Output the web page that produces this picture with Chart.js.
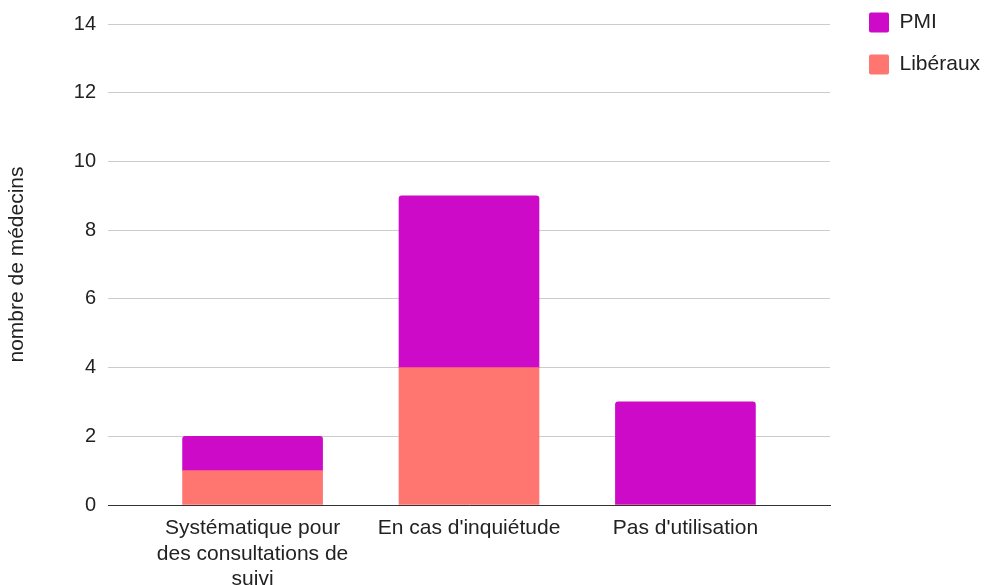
<!DOCTYPE html>
<html>
<head>
<meta charset="utf-8">
<script src="https://cdn.jsdelivr.net/npm/chart.js@4"></script>
<style>
  html, body { margin: 0; padding: 0; background: #fff; }
  #wrap { width: 987px; height: 585px; }
</style>
</head>
<body>
<div id="wrap"><canvas id="MedChart"></canvas></div>
<script>
const categories = [
  ['Systématique pour', 'des consultations de', 'suivi'],
  "En cas d'inquiétude",
  "Pas d'utilisation"
];
const pmi = [1, 5, 3];
const liberaux = [1, 4, 0];
const yTicks = [0, 2, 4, 6, 8, 10, 12, 14];

Chart.defaults.font.family = '"Liberation Sans", Arial, sans-serif';
Chart.defaults.font.size = 20;
Chart.defaults.color = '#222';

// keep the legend column at a fixed width and nudge it into place
const legendFit = {
  id: 'legendFit',
  beforeLayout(chart) {
    const lg = chart.legend;
    if (lg && !lg._fixed) {
      const fit = lg.fit;
      lg.fit = function () { fit.call(this); this.width = 157; };
      lg._fixed = true;
    }
  },
  afterLayout(chart) {
    chart.legend.left += 18;
    chart.legend.top -= 17;
  }
};

const ctx = document.getElementById('MedChart');

new Chart(ctx, {
  type: 'bar',
  data: {
    datasets: [{
      label: 'Libéraux',
      data: liberaux.map((v, i) => ({ x: i, y: v })),
      backgroundColor: '#ff7570',
      barThickness: 140
    }, {
      label: 'PMI',
      data: pmi.map((v, i) => ({ x: i, y: v })),
      backgroundColor: '#cc0ac8',
      borderRadius: { topLeft: 3, topRight: 3, bottomLeft: 0, bottomRight: 0 },
      borderSkipped: false,
      barThickness: 140
    }]
  },
  plugins: [legendFit],
  options: {
    responsive: true,
    maintainAspectRatio: false,
    animation: false,
    layout: { padding: { top: 8, right: 0, left: 0, bottom: 0 } },
    plugins: {
      tooltip: { enabled: false },
      legend: {
        position: 'right',
        align: 'start',
        reverse: true,
        labels: {
          boxWidth: 20,
          boxHeight: 20,
          padding: 21,
          color: '#222',
          font: { size: 21 },
          useBorderRadius: true,
          borderRadius: 2
        }
      }
    },
    scales: {
      x: {
        type: 'linear',
        stacked: true,
        offset: false,
        min: -0.668,
        max: 2.668,
        afterBuildTicks: (scale) => { scale.ticks = categories.map((c, i) => ({ value: i })); },
        afterFit: (scale) => { scale.height = 80; },
        ticks: {
          autoSkip: false,
          maxRotation: 0,
          padding: 3,
          font: { size: 21 },
          callback: (v) => categories[v]
        },
        grid: { display: false },
        border: { color: '#333', width: 1 }
      },
      y: {
        stacked: true,
        min: 0,
        max: 14,
        afterBuildTicks: (scale) => { scale.ticks = yTicks.map(v => ({ value: v })); },
        afterFit: (scale) => { scale.width = 108; },
        ticks: { padding: 12, font: { size: 20 } },
        grid: { color: '#ccc', drawTicks: false },
        border: { display: false },
        title: {
          display: true,
          text: 'nombre de médecins',
          color: '#222',
          font: { size: 21 },
          padding: { top: 5, bottom: 0 }
        }
      }
    }
  }
});
</script>
</body>
</html>
